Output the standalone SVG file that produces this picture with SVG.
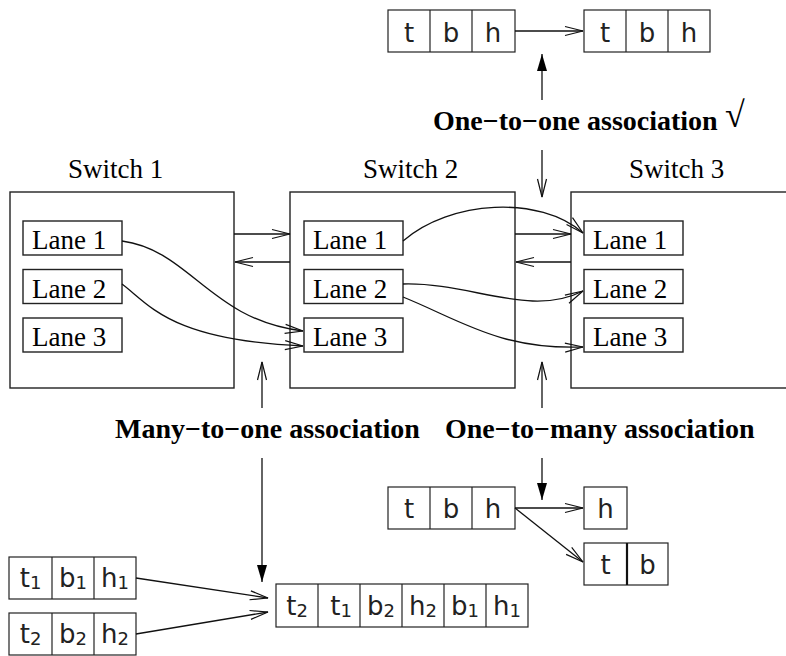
<svg xmlns="http://www.w3.org/2000/svg" width="786" height="656" viewBox="0 0 786 656">
  <style>
    .box { fill: #fff; stroke: #222; stroke-width: 1.4; }
    .cell { fill: none; stroke: #222; stroke-width: 1.2; }
    .thick { stroke: #111; stroke-width: 2.2; }
    .lbl { font-family: "Liberation Serif", "Times New Roman", serif; font-size: 27px; fill: #000; }
    .bold { font-family: "Liberation Serif", "Times New Roman", serif; font-size: 28px; font-weight: bold; fill: #000; }
    .sym { font-family: "DejaVu Sans", "Liberation Sans", sans-serif; font-size: 26px; fill: #222; text-anchor: middle; }
    .sub { font-size: 18px; }
    .wire { fill: none; stroke: #111; stroke-width: 1.3; }
    .open { marker-end: url(#open); }
    .solid { marker-end: url(#solid); }
  </style>
  <defs>
    <marker id="open" viewBox="-20 -6 22 12" markerWidth="22" markerHeight="12" refX="0" refY="0" orient="auto" markerUnits="userSpaceOnUse">
      <path d="M-18,-4.5 L0,0 L-18,4.5" fill="none" stroke="#111" stroke-width="1.2"/>
    </marker>
    <marker id="solid" viewBox="-18 -6 20 12" markerWidth="20" markerHeight="12" refX="0" refY="0" orient="auto" markerUnits="userSpaceOnUse">
      <path d="M-17,-5 L0,0 L-17,5 Z" fill="#000"/>
    </marker>
  </defs>

  <rect width="786" height="656" fill="#fff"/>

  <!-- Switch 1 -->
  <g id="switch1">
    <text class="lbl" x="68" y="178">Switch 1</text>
    <rect class="box" x="10" y="192" width="224" height="196"/>
    <g id="s1-lane1"><rect class="box" x="23" y="221" width="99" height="34"/><text class="lbl" x="32" y="249">Lane 1</text></g>
    <g id="s1-lane2"><rect class="box" x="23" y="269.5" width="99" height="34"/><text class="lbl" x="32" y="297.5">Lane 2</text></g>
    <g id="s1-lane3"><rect class="box" x="23" y="318" width="99" height="34"/><text class="lbl" x="32" y="346">Lane 3</text></g>
  </g>

  <!-- Switch 2 -->
  <g id="switch2">
    <text class="lbl" x="363" y="178">Switch 2</text>
    <rect class="box" x="290" y="192" width="225" height="196"/>
    <g id="s2-lane1"><rect class="box" x="304" y="221" width="99" height="34"/><text class="lbl" x="313" y="249">Lane 1</text></g>
    <g id="s2-lane2"><rect class="box" x="304" y="269.5" width="99" height="34"/><text class="lbl" x="313" y="297.5">Lane 2</text></g>
    <g id="s2-lane3"><rect class="box" x="304" y="318" width="99" height="34"/><text class="lbl" x="313" y="346">Lane 3</text></g>
  </g>

  <!-- Switch 3 (runs past the right edge) -->
  <g id="switch3">
    <text class="lbl" x="629" y="178">Switch 3</text>
    <rect class="box" x="571" y="192" width="240" height="196"/>
    <g id="s3-lane1"><rect class="box" x="584" y="221" width="99" height="34"/><text class="lbl" x="593" y="249">Lane 1</text></g>
    <g id="s3-lane2"><rect class="box" x="584" y="269.5" width="99" height="34"/><text class="lbl" x="593" y="297.5">Lane 2</text></g>
    <g id="s3-lane3"><rect class="box" x="584" y="318" width="99" height="34"/><text class="lbl" x="593" y="346">Lane 3</text></g>
  </g>

  <!-- Association captions -->
  <g id="cap-one-to-one">
    <text class="bold" x="433" y="130">One−to−one association</text>
    <text class="lbl" x="725" y="127" style="font-size:36px">√</text>
  </g>
  <g id="cap-many-to-one"><text class="bold" x="115" y="438">Many−to−one association</text></g>
  <g id="cap-one-to-many"><text class="bold" x="445" y="438">One−to−many association</text></g>

  <!-- Header packets: one-to-one -->
  <g id="pkt-top-in">
    <rect class="cell" x="388" y="10" width="127" height="42"/>
    <line class="cell" x1="430" y1="10" x2="430" y2="52"/>
    <line class="cell" x1="472" y1="10" x2="472" y2="52"/>
    <text class="sym" x="409" y="42">t</text>
    <text class="sym" x="451" y="42">b</text>
    <text class="sym" x="493" y="42">h</text>
  </g>
  <g id="pkt-top-out">
    <rect class="cell" x="584" y="10" width="126" height="42"/>
    <line class="cell" x1="626" y1="10" x2="626" y2="52"/>
    <line class="cell" x1="668" y1="10" x2="668" y2="52"/>
    <text class="sym" x="605" y="42">t</text>
    <text class="sym" x="647" y="42">b</text>
    <text class="sym" x="689" y="42">h</text>
  </g>

  <!-- Header packets: one-to-many -->
  <g id="pkt-mid-in">
    <rect class="cell" x="388" y="487" width="127" height="42"/>
    <line class="cell" x1="430" y1="487" x2="430" y2="529"/>
    <line class="cell" x1="472" y1="487" x2="472" y2="529"/>
    <text class="sym" x="409" y="518">t</text>
    <text class="sym" x="451" y="518">b</text>
    <text class="sym" x="493" y="518">h</text>
  </g>
  <g id="pkt-mid-h">
    <rect class="cell" x="584" y="487" width="43" height="42"/>
    <text class="sym" x="605.5" y="518">h</text>
  </g>
  <g id="pkt-mid-tb">
    <rect class="cell" x="584" y="543" width="84" height="42"/>
    <line class="cell thick" x1="627" y1="543" x2="627" y2="585"/>
    <text class="sym" x="605.5" y="574">t</text>
    <text class="sym" x="647.5" y="574">b</text>
  </g>

  <!-- Header packets: many-to-one -->
  <g id="pkt-low-1">
    <rect class="cell" x="9" y="557" width="127" height="42"/>
    <line class="cell" x1="52" y1="557" x2="52" y2="599"/>
    <line class="cell" x1="94" y1="557" x2="94" y2="599"/>
    <text class="sym" x="30.5" y="587">t<tspan class="sub" dy="2">1</tspan></text>
    <text class="sym" x="73" y="587">b<tspan class="sub" dy="2">1</tspan></text>
    <text class="sym" x="115" y="587">h<tspan class="sub" dy="2">1</tspan></text>
  </g>
  <g id="pkt-low-2">
    <rect class="cell" x="9" y="613" width="127" height="42"/>
    <line class="cell" x1="52" y1="613" x2="52" y2="655"/>
    <line class="cell" x1="94" y1="613" x2="94" y2="655"/>
    <text class="sym" x="30.5" y="643">t<tspan class="sub" dy="2">2</tspan></text>
    <text class="sym" x="73" y="643">b<tspan class="sub" dy="2">2</tspan></text>
    <text class="sym" x="115" y="643">h<tspan class="sub" dy="2">2</tspan></text>
  </g>
  <g id="pkt-merged">
    <rect class="cell" x="276" y="584" width="252" height="43"/>
    <line class="cell" x1="318" y1="584" x2="318" y2="627"/>
    <line class="cell" x1="360" y1="584" x2="360" y2="627"/>
    <line class="cell" x1="402" y1="584" x2="402" y2="627"/>
    <line class="cell" x1="444" y1="584" x2="444" y2="627"/>
    <line class="cell" x1="486" y1="584" x2="486" y2="627"/>
    <text class="sym" x="297" y="615">t<tspan class="sub" dy="2">2</tspan></text>
    <text class="sym" x="341" y="615">t<tspan class="sub" dy="2">1</tspan></text>
    <text class="sym" x="381" y="615">b<tspan class="sub" dy="2">2</tspan></text>
    <text class="sym" x="423" y="615">h<tspan class="sub" dy="2">2</tspan></text>
    <text class="sym" x="465" y="615">b<tspan class="sub" dy="2">1</tspan></text>
    <text class="sym" x="507" y="615">h<tspan class="sub" dy="2">1</tspan></text>
  </g>

  <!-- Connectors -->
  <g id="connectors">
    <!-- links between switches -->
    <line class="wire open" x1="234" y1="234" x2="290" y2="234"/>
    <line class="wire open" x1="290" y1="262" x2="235" y2="262"/>
    <line class="wire open" x1="515" y1="234" x2="571" y2="234"/>
    <line class="wire open" x1="571" y1="262" x2="516" y2="262"/>

    <!-- lane mappings -->
    <path class="wire open" d="M122,241 C190,250 210,320 303,331"/>
    <path class="wire open" d="M122,284 C150,305 170,340 303,346"/>
    <path class="wire open" d="M403,241 C450,200 540,195 583,233"/>
    <path class="wire open" d="M403,284 C470,282 530,318 583,291"/>
    <path class="wire open" d="M403,297 C460,320 500,350 583,347"/>

    <!-- caption pointers -->
    <line class="wire solid" x1="542" y1="100" x2="542" y2="54"/>
    <line class="wire open" x1="542" y1="150" x2="542" y2="197"/>
    <line class="wire open" x1="262" y1="408" x2="262" y2="362"/>
    <line class="wire solid" x1="262" y1="458" x2="262" y2="582"/>
    <line class="wire open" x1="542" y1="408" x2="542" y2="362"/>
    <line class="wire solid" x1="542" y1="458" x2="542" y2="500"/>

    <!-- header transformations -->
    <line class="wire open" x1="515" y1="31" x2="583" y2="31"/>
    <line class="wire open" x1="515" y1="508" x2="583" y2="508"/>
    <line class="wire open" x1="515" y1="508" x2="583" y2="562"/>
    <line class="wire open" x1="136" y1="578" x2="268" y2="598"/>
    <line class="wire open" x1="136" y1="634" x2="268" y2="612"/>
  </g>
</svg>
